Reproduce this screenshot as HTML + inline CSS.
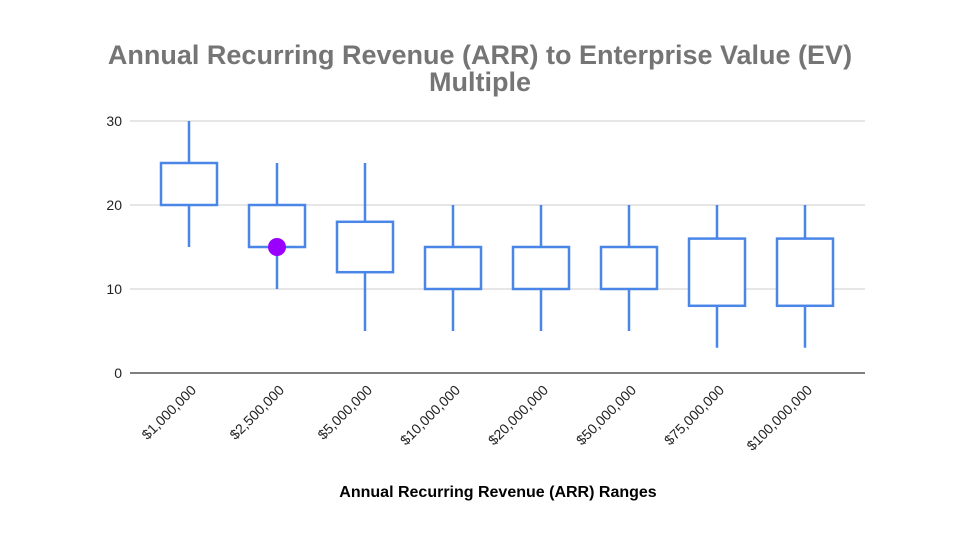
<!DOCTYPE html>
<html><head><meta charset="utf-8"><style>
body{margin:0;background:#fff;}
svg{display:block;font-family:"Liberation Sans",Arial,sans-serif;}
</style></head><body>
<svg id="chart" width="960" height="540">
<rect width="960" height="540" fill="#fff"/>
<text x="480" y="64" text-anchor="middle" font-size="27" font-weight="bold" fill="#757575">Annual Recurring Revenue (ARR) to Enterprise Value (EV)</text>
<text x="480" y="91" text-anchor="middle" font-size="27" font-weight="bold" fill="#757575">Multiple</text>
<text x="498" y="497" text-anchor="middle" font-size="16" font-weight="bold" fill="#000">Annual Recurring Revenue (ARR) Ranges</text>
<g id="grid"></g><g id="marks"></g><g id="labels"></g>
</svg>
<script>
const categories=["$1,000,000","$2,500,000","$5,000,000","$10,000,000","$20,000,000","$50,000,000","$75,000,000","$100,000,000"];
const lows=[15,10,5,5,5,5,3,3];
const opens=[20,15,12,10,10,10,8,8];
const closes=[25,20,18,15,15,15,16,16];
const highs=[30,25,25,20,20,20,20,20];
const yTicks=[0,10,20,30];
const highlightIndex=1;
const highlightValue=15;

const NS="http://www.w3.org/2000/svg";
const gx0=130,gx1=865,x0=145,x1=849,y0=373,yScale=8.4;
const step=(x1-x0)/categories.length;
const xs=i=>x0+step*(i+0.5);
const ys=v=>y0-v*yScale;
function mk(t,a,p){const e=document.createElementNS(NS,t);for(const k in a)e.setAttribute(k,a[k]);p.appendChild(e);return e;}
const grid=document.getElementById('grid'),marks=document.getElementById('marks'),labels=document.getElementById('labels');
yTicks.forEach(v=>{
  const l=mk('line',{x1:gx0,x2:gx1,y1:ys(v),y2:ys(v),stroke:v===0?'#333':'#ccc','stroke-width':v===0?1.3:1},grid);
  
  
  const t=mk('text',{x:122,y:ys(v)+5,'text-anchor':'end','font-size':14,fill:'#222'},labels);
  t.textContent=v;
  
  
});
categories.forEach((c,i)=>{
  const cx=xs(i),bw=56;
  const w=mk('line',{x1:cx,x2:cx,y1:ys(highs[i]),y2:ys(lows[i]),stroke:'#4a86e8','stroke-width':2.5},marks);
  
  
  const top=Math.max(opens[i],closes[i]),bot=Math.min(opens[i],closes[i]);
  const r=mk('rect',{x:cx-bw/2,y:ys(top),width:bw,height:ys(bot)-ys(top),fill:'#fff',stroke:'#4a86e8','stroke-width':2.5},marks);
  
  
  const t=mk('text',{x:cx+8,y:391,'text-anchor':'end','font-size':14,fill:'#222',transform:`rotate(-45 ${cx+8} 391)`},labels);
  t.textContent=c;
  
  
});
const d=mk('circle',{cx:xs(highlightIndex),cy:ys(highlightValue),r:9,fill:'#9900ff'},marks);


</script>
</body></html>
